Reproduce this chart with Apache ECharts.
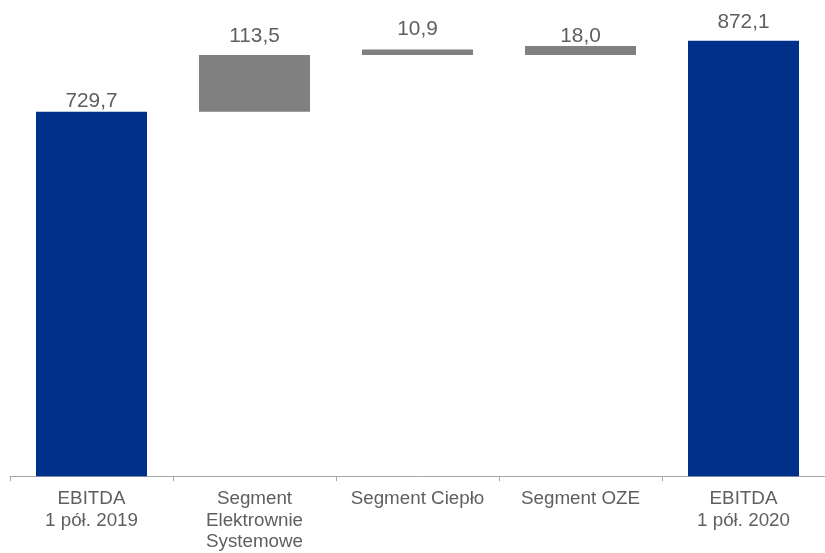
<!DOCTYPE html>
<html>
<head>
<meta charset="utf-8">
<script src="https://cdn.jsdelivr.net/npm/echarts@6/dist/echarts.min.js"></script>
<style>
html,body{margin:0;padding:0;background:#fff;overflow:hidden;}
#c{width:825px;height:553px;}
</style>
</head>
<body>
<div id="c"></div>
<script>
const categories = ["EBITDA\n1 pół. 2019", "Segment\nElektrownie\nSystemowe", "Segment Ciepło", "Segment OZE", "EBITDA\n1 pół. 2020"];
const barValues = [729.7, 113.5, 10.9, 18.0, 872.1];
const baseValues = [0, 729.7, 843.2, 843.2, 0];
const isTotal = [true, false, false, false, true];

const labelDistance = [2, 10, 12, 1, 10];
const BLUE = "#00318a";
const GRAY = "#808080";
const TEXT = "#5f5f5f";

const chart = echarts.init(document.getElementById('c'), null, {renderer: 'canvas'});
chart.setOption({
  animation: false,
  backgroundColor: '#fff',
  grid: {left: 10, width: 821, top: 26.7, bottom: 73, containLabel: false},
  xAxis: {
    type: 'category',
    data: categories,
    axisLine: {lineStyle: {color: '#a6a6a6', width: 1}},
    axisTick: {show: true, length: 5, lineStyle: {color: '#a6a6a6'}},
    axisLabel: {
      interval: 0, margin: 12, color: TEXT,
      fontFamily: 'Liberation Sans, Arial, sans-serif', fontSize: 18.8, lineHeight: 21.6
    }
  },
  yAxis: {
    type: 'value', min: 0, max: 900, show: false,
    splitLine: {show: false}
  },
  series: [
    {
      type: 'bar', stack: 'w', barWidth: 111,
      itemStyle: {color: 'transparent'},
      emphasis: {disabled: true},
      data: baseValues
    },
    {
      type: 'bar', stack: 'w', barWidth: 111,
      data: barValues.map((v, i) => ({
        value: v,
        itemStyle: {color: isTotal[i] ? BLUE : GRAY},
        label: {
          show: true, position: 'top', distance: labelDistance[i], offset: [0, 2],
          color: TEXT, fontFamily: 'Liberation Sans, Arial, sans-serif', fontSize: 20.8,
          formatter: p => p.value.toFixed(1).replace('.', ',')
        }
      }))
    }
  ]
});
</script>
</body>
</html>
